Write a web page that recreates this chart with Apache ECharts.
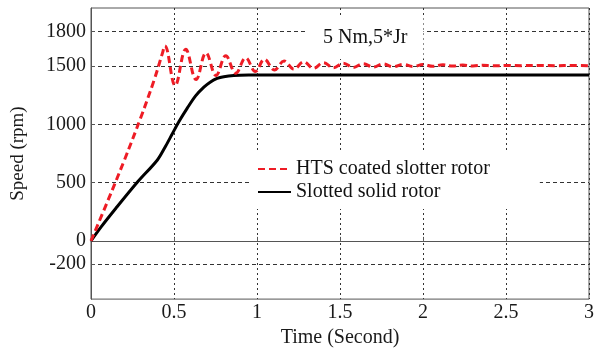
<!DOCTYPE html>
<html><head><meta charset="utf-8">
<script src="https://cdn.jsdelivr.net/npm/echarts@6/dist/echarts.min.js"></script>
<style>html,body{margin:0;padding:0;background:#fff}#c{width:597px;height:353px}</style>
</head><body><div id="c"></div>
<script>
const seriesNames = ['HTS coated slotter rotor', 'Slotted solid rotor'];
const htsTime  = [0, 0.1, 0.2, 0.3, 0.38, 0.43, 0.445, 0.507, 0.571, 0.633, 0.693, 0.753, 0.812, 0.872, 0.932, 0.99, 1.045, 1.105, 1.163, 1.222, 1.282, 1.34, 1.40, 1.46, 1.52, 1.58, 1.64, 1.70, 1.76, 1.82, 1.88, 1.94, 2.00, 2.06, 2.12, 2.18, 2.24, 2.30, 2.36, 2.42, 2.5, 2.6, 2.7, 2.8, 2.9, 3.0];
const htsSpeed = [0, 340, 690, 1060, 1380, 1610, 1675, 1335, 1645, 1385, 1615, 1420, 1590, 1440, 1572, 1455, 1560, 1468, 1545, 1475, 1538, 1482, 1530, 1487, 1526, 1490, 1522, 1493, 1520, 1495, 1516, 1497, 1514, 1499, 1512, 1501, 1510, 1502, 1509, 1503, 1507, 1505, 1507, 1505, 1506, 1505];
const solidTime  = [0, 0.06, 0.15, 0.28, 0.40, 0.45, 0.49, 0.53, 0.58, 0.63, 0.68, 0.72, 0.76, 0.80, 0.86, 0.95, 1.1, 1.5, 2.0, 2.5, 3.0];
const solidSpeed = [0, 118, 280, 505, 695, 815, 920, 1025, 1140, 1245, 1320, 1365, 1395, 1410, 1420, 1424, 1425, 1425, 1425, 1425, 1425];
const yTickValues = [-200, 0, 500, 1000, 1500, 1800];
const annotationText = '5 Nm,5*Jr';
const xAxisName = 'Time (Second)';
const yAxisName = 'Speed (rpm)';

const FONT = '"Liberation Serif", "Times New Roman", serif';
const zip = (xs, ys) => xs.map((x, i) => [x, ys[i]]);
const chart = echarts.init(document.getElementById('c'));
chart.setOption({
  animation: false,
  backgroundColor: '#fff',
  grid: { left: 91, right: 5, top: 8, bottom: 41, show: true, borderColor: '#555', borderWidth: 1 },
  xAxis: {
    type: 'value', min: 0, max: 3, interval: 0.5,
    name: xAxisName, nameLocation: 'middle', nameGap: 17,
    nameTextStyle: { fontFamily: FONT, fontSize: 20, color: '#1a1a1a' },
    axisLine: { show: true, lineStyle: { color: '#555', width: 1 } },
    axisTick: { show: true, inside: true, length: 4, lineStyle: { color: '#555' } },
    axisLabel: { fontFamily: FONT, fontSize: 20, color: '#1a1a1a', margin: 4 },
    splitLine: { show: true, lineStyle: { color: '#333', width: 1, type: [2, 3] } }
  },
  yAxis: {
    type: 'value', min: -500, max: 2000,
    name: yAxisName, nameLocation: 'middle', nameGap: 63,
    nameTextStyle: { fontFamily: FONT, fontSize: 19, color: '#1a1a1a' },
    axisLine: { show: true, lineStyle: { color: '#555', width: 1 } },
    axisTick: { show: true, inside: true, length: 4, customValues: yTickValues, lineStyle: { color: '#555' } },
    axisLabel: { fontFamily: FONT, fontSize: 20, color: '#1a1a1a', margin: 5, customValues: yTickValues, formatter: v => String(v) },
    splitLine: { show: true, lineStyle: { color: '#333', width: 1, type: [4, 3] } }
  },
  legend: {
    orient: 'vertical', left: 252, top: 151,
    itemWidth: 33, itemHeight: 14, itemGap: 3,
    backgroundColor: '#fff', padding: [8, 50, 7, 5],
    itemStyle: { opacity: 0 },
    textStyle: { fontFamily: FONT, fontSize: 20, color: '#111' },
    data: seriesNames
  },
  graphic: [{
    type: 'text', left: 307, top: 17, z: 10,
    style: { text: annotationText, font: '20px "Liberation Serif"', fill: '#111', backgroundColor: '#fff', padding: [11, 16, 11, 16] }
  }],
  series: [
    { name: seriesNames[0], type: 'line', data: zip(htsTime, htsSpeed), symbol: 'none', smooth: 0.4, z: 3,
      lineStyle: { color: '#ee1c25', width: 3, type: [7, 4] }, itemStyle: { color: '#ee1c25' } },
    { name: seriesNames[1], type: 'line', data: zip(solidTime, solidSpeed), symbol: 'none', smooth: 0.3, z: 2,
      lineStyle: { color: '#000', width: 3, type: 'solid' }, itemStyle: { color: '#000' } }
  ]
});
</script></body></html>
